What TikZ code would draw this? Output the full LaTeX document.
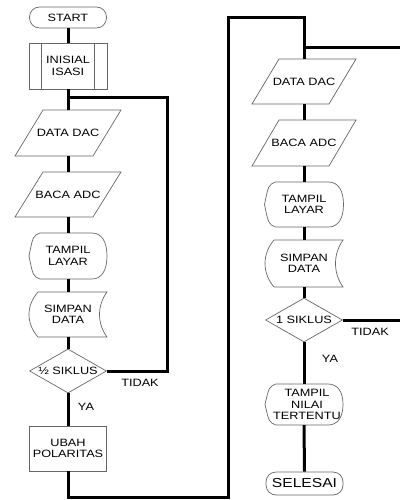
\documentclass[tikz,border=0pt]{standalone}
\usepackage{fontspec}
\setmainfont{Liberation Sans}[FakeStretch=1.2]
\usetikzlibrary{shapes.geometric}
\newcommand\parashape[5]{%
  \draw[shp] ({#1-#3+#5},{#2-#4}) -- ({#1+#3},{#2-#4}) -- ({#1+#3-#5},{#2+#4}) -- ({#1-#3},{#2+#4}) -- cycle;}
\newcommand\dispshape[4]{%
  \draw[shp] ({#1-#3+11},{#2-#4}) -- ({#1+#3-15},{#2-#4})
    .. controls ({#1+#3-5},{#2-#4}) and ({#1+#3},{#2-#4*0.6}) .. ({#1+#3},{#2})
    .. controls ({#1+#3},{#2+#4*0.6}) and ({#1+#3-5},{#2+#4}) .. ({#1+#3-15},{#2+#4})
    -- ({#1-#3+11},{#2+#4})
    .. controls ({#1-#3+4},{#2+#4-3}) .. ({#1-#3},{#2})
    .. controls ({#1-#3+4},{#2-#4+3}) .. ({#1-#3+11},{#2-#4}) -- cycle;}
\newcommand\storeshape[4]{%
  \draw[shp] ({#1-#3+9},{#2-#4}) -- ({#1+#3},{#2-#4})
    .. controls ({#1+#3-10},{#2-#4*0.4}) and ({#1+#3-10},{#2+#4*0.4}) .. ({#1+#3},{#2+#4})
    -- ({#1-#3+9},{#2+#4})
    .. controls ({#1-#3-3},{#2+#4*0.4}) and ({#1-#3-3},{#2-#4*0.4}) .. ({#1-#3+9},{#2-#4}) -- cycle;}
\begin{document}
\begin{tikzpicture}[x=1pt,y=-1pt,
  shp/.style={draw=black!60, line width=0.7pt},
  lbl/.style={font=\fontsize{10.6}{11.5}\selectfont, align=center, text=black, inner sep=0pt},
  con/.style={line width=3pt, draw=black},
  term/.style={lbl, shp, rounded corners=10pt},
  dec/.style={lbl, shp, diamond, aspect=1.75, minimum width=77pt, minimum height=44pt}
]
\useasboundingbox (0,0) rectangle (399,500);

% ---------- left column ----------
\node[term, minimum width=77pt, minimum height=21pt] (start) at (68,17.5) {START};
\node[lbl, shp, minimum width=78pt, minimum height=46pt] (init) at (68,66) {INISIAL\\ISASI};
\draw[shp] ([xshift=13pt]init.north west) -- ([xshift=13pt]init.south west);
\draw[shp] ([xshift=-13pt]init.north east) -- ([xshift=-13pt]init.south east);

\parashape{68}{133}{53}{23}{28}
\node[lbl, minimum width=106pt, minimum height=46pt] (dac1) at (68,133) {DATA DAC};
\parashape{68}{194.5}{53}{22.5}{28}
\node[lbl, minimum width=106pt, minimum height=45pt] (adc1) at (68,194.5) {BACA ADC};
\dispshape{68}{256}{39}{23}
\node[lbl, minimum width=78pt, minimum height=46pt] (tl1) at (68,256) {TAMPIL\\LAYAR};
\storeshape{68}{314.5}{39}{22.5}
\node[lbl, minimum width=78pt, minimum height=45pt] (sd1) at (68,314.5) {SIMPAN\\DATA};
\node[dec] (d1) at (68,371) {½ SIKLUS};
\node[lbl, shp, minimum width=77pt, minimum height=45pt] (ubah) at (68,448.5) {UBAH\\POLARITAS};

\node[lbl] (tidak1) at (140,383) {TIDAK};
\node[lbl] (ya1) at (86,407) {YA};

% ---------- right column ----------
\parashape{304}{81.5}{52}{22.5}{27}
\node[lbl, minimum width=104pt, minimum height=45pt] (dac2) at (304,81.5) {DATA DAC};
\parashape{304}{143}{52}{23}{27}
\node[lbl, minimum width=104pt, minimum height=46pt] (adc2) at (304,143) {BACA ADC};
\dispshape{304}{204.5}{39.5}{22.5}
\node[lbl, minimum width=79pt, minimum height=45pt] (tl2) at (304,204.5) {TAMPIL\\LAYAR};
\storeshape{304}{263.5}{39}{23.5}
\node[lbl, minimum width=78pt, minimum height=47pt] (sd2) at (304,263.5) {SIMPAN\\DATA};
\node[dec] (d2) at (304,320) {1 SIKLUS};
\dispshape{304}{404.5}{39}{20.5}
\node[lbl, minimum width=78pt, minimum height=41pt] (tn) at (304,404.5) {};
\node[lbl] (tntext) at (307,404.5) {TAMPIL\\NILAI\\TERTENTU};
\node[term, font=\fontsize{13}{14}\selectfont, minimum width=77pt, minimum height=23pt] (sel) at (304.5,483.5) {SELESAI};

\node[lbl] (tidak2) at (370,332) {TIDAK};
\node[lbl] (ya2) at (330,359) {YA};

% ---------- connectors ----------
\coordinate (j1) at (68,98);
\coordinate (c1) at (167,371);
\coordinate (c2) at (228,497);
\coordinate (c3) at (228,18);
\coordinate (j2) at (304,48);
\coordinate (e1) at (400,48);
\coordinate (e2) at (400,320);

\draw[con] (start.south) -- (init.north);
\draw[con] (init.south) -- (dac1.north);
\draw[con] (dac1.south) -- (adc1.north);
\draw[con] (adc1.south) -- (tl1.north);
\draw[con] (tl1.south) -- (sd1.north);
\draw[con] (sd1.south) -- (d1.north);
\draw[con] (d1.south) -- (ubah.north);
\draw[con] (d1.east) -- (c1) |- (j1);
\draw[con] (ubah.south) |- (c2) -- (c3) -| (dac2.north);
\draw[con] (j2) -- (e1);

\draw[con] (dac2.south) -- (adc2.north);
\draw[con] (adc2.south) -- (tl2.north);
\draw[con] (tl2.south) -- (sd2.north);
\draw[con] (sd2.south) -- (d2.north);
\draw[con] (d2.south) -- (tn.north);
\draw[con] (tn.south) -- (sel.north);
\draw[con] (d2.east) -- (e2);
\end{tikzpicture}
\end{document}
